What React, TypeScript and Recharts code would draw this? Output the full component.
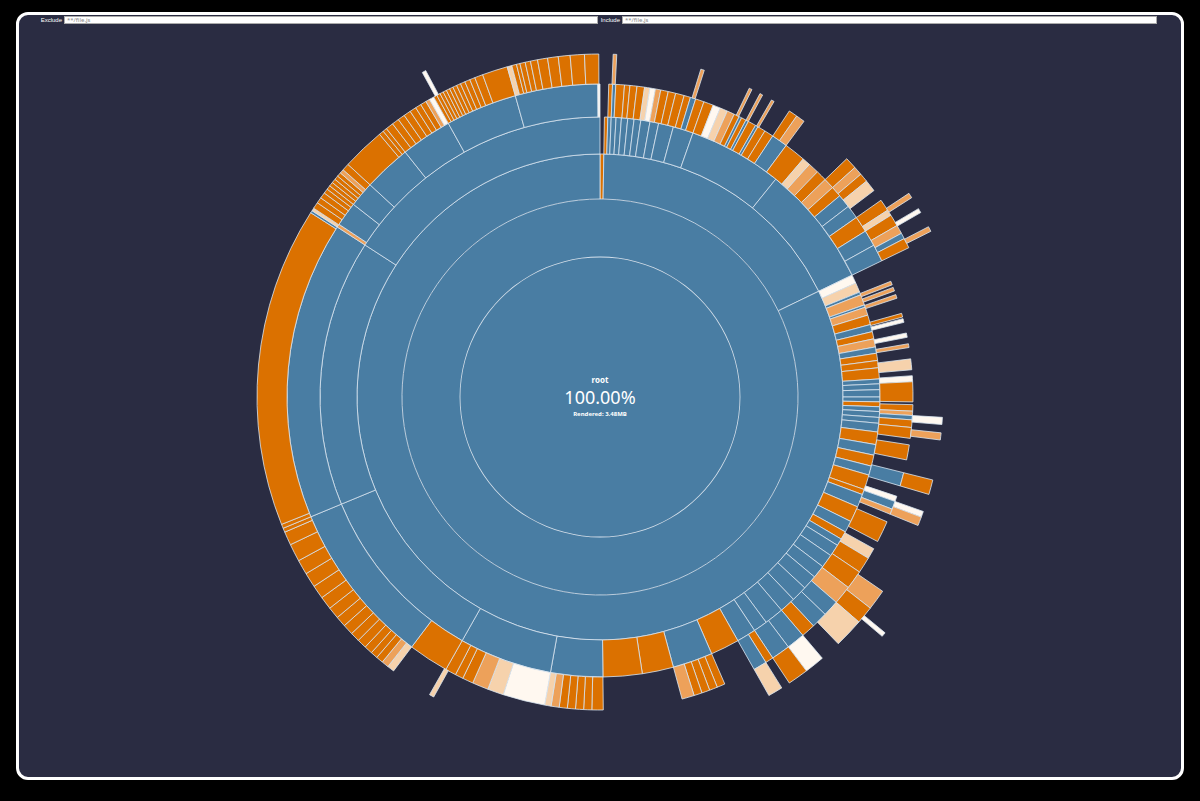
import { PieChart, Pie, Cell } from 'recharts';

// segment = [size in degrees of the full 360 turn, kind]
// kinds: d = directory, f = file, p = pale file, l = light file, w = near white file, g = empty
type Seg = [number, string];

const rootLabel = 'root';
const rootShare = '100.00%';
const renderedLabel = 'Rendered: 3.48MB';
const filterLabels = ['Exclude', 'Include'];
const filterPlaceholder = '**/file.js';

const depth0: Seg[] = [[360, 'd']];
const depth1: Seg[] = [[360, 'd']];
const depth2: Seg[] = [[0.9, 'f'], [63.3, 'd'], [295.8, 'd']];

const depth3: Seg[] = [
  [0.9, 'g'], [0.7, 'f'], [0.7, 'd'], [1.0, 'd'], [1.1, 'd'], [1.3, 'd'], [1.3, 'd'], [1.4, 'd'], [1.9, 'd'], [1.8, 'd'],
  [3.1, 'd'], [4.2, 'd'], [19.5, 'd'], [25.3, 'd'],
  [1.8, 'w'], [2.0, 'l'], [0.6, 'd'], [2.2, 'p'], [0.5, 'd'], [1.7, 'p'], [2.0, 'f'], [1.5, 'd'], [1.5, 'f'], [1.7, 'p'],
  [1.3, 'd'], [1.5, 'f'], [1.5, 'f'], [2.3, 'f'], [1.0, 'd'], [1.2, 'd'], [1.5, 'd'], [1.0, 'd'], [1.0, 'f'], [1.0, 'd'],
  [1.2, 'd'], [1.2, 'd'], [1.8, 'd'], [2.6, 'f'], [2.2, 'd'], [2.3, 'f'], [1.9, 'd'], [3.1, 'f'], [1.1, 'f'], [2.7, 'd'],
  [3.3, 'f'], [2.4, 'd'], [1.7, 'f'], [1.5, 'd'],
  [2.5, 'd'], [2.8, 'd'], [2.7, 'd'], [3.0, 'd'], [3.3, 'd'], [3.3, 'd'], [4.0, 'd'], [2.9, 'd'], [4.0, 'd'], [6.0, 'f'],
  [8.3, 'd'], [6.5, 'f'], [8.1, 'f'], [10.8, 'd'], [19.3, 'd'], [38.0, 'd'], [55.4, 'd'], [57.1, 'd'],
];

const depth4: Seg[] = [
  [1.6, 'g'], [0.7, 'f'], [0.6, 'd'], [1.6, 'f'], [1.0, 'f'], [1.3, 'f'], [1.4, 'f'], [1.0, 'l'], [1.0, 'w'], [1.0, 'p'],
  [1.4, 'f'], [1.4, 'f'], [1.6, 'f'], [1.2, 'f'], [1.0, 'd'], [1.6, 'f'], [1.8, 'f'], [1.4, 'w'], [1.4, 'l'], [1.4, 'p'],
  [1.0, 'f'], [0.5, 'd'], [0.9, 'f'], [0.5, 'd'], [1.5, 'f'], [0.5, 'd'], [1.5, 'f'], [1.7, 'f'], [3.0, 'd'], [4.0, 'f'],
  [1.5, 'l'], [2.0, 'p'], [2.0, 'f'], [2.0, 'p'], [2.0, 'f'], [2.5, 'd'], [2.5, 'd'], [3.0, 'f'], [3.0, 'd'], [3.2, 'd'],
  [4.1, 'g'], [0.7, 'p'], [0.5, 'g'], [0.7, 'p'], [0.7, 'g'], [0.7, 'p'], [2.9, 'g'], [0.7, 'f'], [0.3, 'g'], [0.7, 'w'],
  [2.0, 'g'], [0.8, 'w'], [1.2, 'g'], [0.7, 'p'], [2.1, 'g'], [2.0, 'l'], [1.1, 'g'], [1.1, 'w'], [3.7, 'f'], [0.5, 'g'],
  [1.2, 'f'], [0.8, 'p'], [0.8, 'd'], [1.4, 'f'], [2.0, 'f'], [1.2, 'g'], [2.8, 'f'], [2.4, 'g'], [2.5, 'd'], [2.0, 'g'],
  [1.0, 'w'], [1.5, 'd'], [1.0, 'p'], [1.5, 'g'], [4.0, 'f'], [1.5, 'g'], [2.0, 'l'], [3.0, 'f'], [3.5, 'f'], [3.5, 'p'],
  [3.0, 'd'], [3.0, 'd'], [2.6, 'f'], [3.4, 'd'], [3.5, 'd'], [1.5, 'f'], [2.5, 'd'], [6.0, 'g'], [1.5, 'f'], [1.5, 'f'],
  [1.5, 'f'], [1.5, 'f'], [2.3, 'p'], [14.6, 'g'], [2.1, 'f'], [1.5, 'f'], [1.5, 'f'], [1.5, 'f'], [1.5, 'f'], [1.5, 'p'],
  [1.2, 'l'], [7.8, 'w'], [3.0, 'l'], [3.0, 'p'], [2.0, 'f'], [1.5, 'f'], [2.0, 'f'], [7.5, 'f'], [30.5, 'd'], [55.4, 'd'],
  [0.6, 'p'], [4.5, 'd'], [4.7, 'd'], [8.8, 'd'], [9.5, 'd'], [13.3, 'd'], [15.3, 'd'], [0.4, 'w'],
];

const depth5: Seg[] = [
  [2.2, 'g'], [0.6, 'p'], [14.3, 'g'], [0.6, 'p'], [8.1, 'g'], [0.5, 'p'], [1.5, 'g'], [0.5, 'p'], [1.7, 'g'], [0.5, 'p'],
  [3.0, 'g'], [1.5, 'f'], [1.5, 'p'], [9.5, 'g'], [2.0, 'f'], [1.5, 'p'], [1.5, 'f'], [2.0, 'l'], [2.0, 'g'], [2.0, 'f'],
  [1.0, 'l'], [2.0, 'f'], [1.5, 'p'], [1.0, 'd'], [1.7, 'f'],
  [29.2, 'g'], [1.2, 'w'], [1.4, 'g'], [1.2, 'p'], [6.8, 'g'], [2.5, 'f'], [3.0, 'g'], [1.0, 'w'], [1.5, 'p'], [12.5, 'g'],
  [3.5, 'p'], [3.0, 'f'], [5.0, 'l'], [3.6, 'g'], [3.4, 'w'], [3.5, 'f'], [1.5, 'g'], [2.5, 'l'], [58.5, 'g'], [0.8, 'l'],
  [7.2, 'g'],
  [1.2, 'l'], [1.2, 'p'], [1.2, 'f'], [1.2, 'f'], [1.4, 'f'], [1.6, 'f'], [1.6, 'f'], [1.8, 'f'], [1.8, 'f'], [2.0, 'f'],
  [2.2, 'f'], [2.3, 'f'], [2.5, 'f'], [2.5, 'f'], [3.0, 'f'], [2.3, 'f'], [0.7, 'f'], [0.7, 'f'], [54.3, 'f'], [0.4, 'd'],
  [0.5, 'l'], [1.1, 'f'], [1.0, 'f'], [1.0, 'f'], [0.8, 'f'], [0.7, 'f'], [0.7, 'f'], [0.7, 'f'], [0.7, 'f'], [0.7, 'f'],
  [0.7, 'p'], [1.2, 'f'], [7.3, 'f'], [0.8, 'f'], [0.7, 'f'], [1.3, 'f'], [1.2, 'f'], [1.2, 'f'], [1.2, 'f'], [1.1, 'f'],
  [1.0, 'f'], [1.0, 'f'], [0.7, 'p'], [0.8, 'w'], [0.6, 'f'], [0.6, 'f'], [0.6, 'f'], [0.6, 'f'], [0.6, 'f'], [0.6, 'f'],
  [0.7, 'f'], [0.7, 'f'], [0.8, 'f'], [0.9, 'f'], [0.9, 'f'], [1.4, 'f'], [4.3, 'f'], [0.8, 'l'], [0.8, 'f'], [0.6, 'f'],
  [0.9, 'f'], [0.9, 'f'], [1.2, 'f'], [1.7, 'f'], [1.8, 'f'], [2.0, 'f'], [2.4, 'f'], [2.4, 'f'],
];

const depth6: Seg[] = [
  [56.6, 'g'], [0.8, 'p'], [2.0, 'g'], [0.7, 'w'], [2.5, 'g'], [0.8, 'p'], [66.2, 'g'], [0.7, 'w'], [201.0, 'g'], [0.6, 'w'],
];

const rings = [depth0, depth1, depth2, depth3, depth4, depth5, depth6];
// sqrt-scaled ring edges
const edges = [0, 140, 198, 243, 280, 313, 343, 370];
// edge between the two whole-circle rings (drawn as a plain outline, no seam)
const wholeEdges = [140];

const colors: Record<string, string> = {
  d: '#497da3',
  f: '#db7100',
  p: '#eda15a',
  l: '#f6d2ac',
  w: '#fff8f0',
  g: 'none',
};
const LINE = '#d9e6f1';

function toRows(segs: Seg[]) {
  const rows = segs.map(([v, k]) => ({ v, k }));
  const used = segs.reduce((s, [v]) => s + v, 0);
  if (used < 360) rows.push({ v: 360 - used, k: 'g' });
  return rows;
}

const CX = 600;
const CY = 397;
const boxLeft = [64, 622];
const boxWidth = [534, 535];

export default function App() {
  return (
    <div style={{ position: 'fixed', left: 0, top: 0, width: 1200, height: 801, background: '#000', overflow: 'hidden', fontFamily: '"Noto Sans", sans-serif' }}>
      <div
        style={{
          position: 'absolute',
          left: 16,
          top: 12,
          width: 1168,
          height: 768,
          boxSizing: 'border-box',
          border: '3px solid #fff',
          borderRadius: 12,
          background: '#2a2c42',
        }}
      />
      {filterLabels.map((label, i) => (
        <div key={label}>
          <div
            style={{
              position: 'absolute',
              top: 16,
              left: boxLeft[i] - 40,
              width: 38,
              textAlign: 'right',
              color: '#fff',
              fontSize: 6,
              lineHeight: '9px',
              fontFamily: '"Liberation Sans", sans-serif',
            }}
          >
            {label}
          </div>
          <div
            style={{
              position: 'absolute',
              top: 16,
              left: boxLeft[i],
              width: boxWidth[i],
              height: 8,
              background: '#fff',
              border: '1px solid #aaa',
              boxSizing: 'border-box',
              fontSize: 6,
              lineHeight: '7px',
              color: '#888',
              paddingLeft: 2,
            }}
          >
            {filterPlaceholder}
          </div>
        </div>
      ))}
      <div style={{ position: 'absolute', left: 0, top: 0 }}>
        <PieChart width={1200} height={801} margin={{ top: 0, right: 0, bottom: 0, left: 0 }}>
          {rings.map((ring, i) => {
            const rows = toRows(ring);
            const whole = ring.length === 1;
            return (
              <Pie
                key={i}
                data={rows}
                dataKey="v"
                cx={CX}
                cy={CY}
                innerRadius={edges[i]}
                outerRadius={edges[i + 1]}
                startAngle={90}
                endAngle={-270}
                isAnimationActive={false}
                stroke="none"
              >
                {rows.map((r, j) => (
                  <Cell key={j} fill={colors[r.k]} stroke={r.k === 'g' || whole ? 'none' : LINE} strokeWidth={0.8} />
                ))}
              </Pie>
            );
          })}
          {wholeEdges.map((r) => (
            <Pie
              key={`edge-${r}`}
              data={[{ v: 1 }]}
              dataKey="v"
              cx={CX}
              cy={CY}
              innerRadius={r - 0.4}
              outerRadius={r + 0.4}
              startAngle={90}
              endAngle={-270}
              isAnimationActive={false}
              stroke="none"
              fill={LINE}
            />
          ))}
        </PieChart>
      </div>
      <div style={{ position: 'absolute', left: CX - 100, width: 200, top: 375, textAlign: 'center', color: '#fff', fontSize: 8, fontWeight: 700, lineHeight: '10px' }}>
        {rootLabel}
      </div>
      <div style={{ position: 'absolute', left: CX - 100, width: 200, top: 386, textAlign: 'center', color: '#fff', fontSize: 18, fontWeight: 400, lineHeight: '22px' }}>
        {rootShare}
      </div>
      <div style={{ position: 'absolute', left: CX - 100, width: 200, top: 410, textAlign: 'center', color: '#fff', fontSize: 6, fontWeight: 700, lineHeight: '8px' }}>
        {renderedLabel}
      </div>
    </div>
  );
}
